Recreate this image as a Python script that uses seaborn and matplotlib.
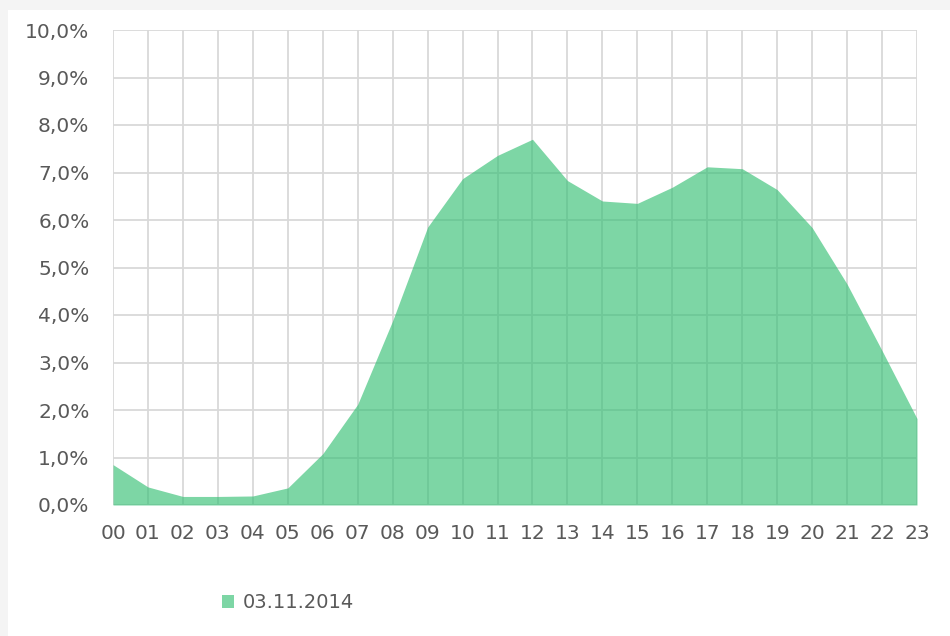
import matplotlib
matplotlib.use("Agg")
import matplotlib.pyplot as plt
import seaborn as sns
import pandas as pd
from matplotlib.patches import Rectangle, Patch
from matplotlib.ticker import FixedLocator

hours = ["00", "01", "02", "03", "04", "05", "06", "07", "08", "09", "10", "11",
         "12", "13", "14", "15", "16", "17", "18", "19", "20", "21", "22", "23"]
share = [0.85, 0.38, 0.18, 0.18, 0.19, 0.36, 1.08, 2.12, 3.88, 5.85, 6.87, 7.36,
         7.70, 6.83, 6.40, 6.35, 6.69, 7.12, 7.08, 6.64, 5.84, 4.65, 3.25, 1.82]
series_name = "03.11.2014"
y_ticks = [0, 1, 2, 3, 4, 5, 6, 7, 8, 9, 10]

df = pd.DataFrame({"pos": range(len(hours)), "hour": hours, "share": share})

sns.set_theme(style="white")
plt.rcParams["font.family"] = ["DejaVu Sans"]

text_color = "#595959"
grid_color = "#d9d9d9"
fill_color = "#37c075"

fig = plt.figure(figsize=(9.5, 6.36), dpi=100)
fig.patch.set_facecolor("white")
# light grey frame at top and left
fig.patches.append(Rectangle((0, 1 - 10 / 636), 1, 10 / 636, transform=fig.transFigure,
                             facecolor="#f4f4f4", edgecolor="none", zorder=0))
fig.patches.append(Rectangle((0, 0), 8 / 950, 1, transform=fig.transFigure,
                             facecolor="#f4f4f4", edgecolor="none", zorder=0))

ax = fig.add_axes([113 / 950, 1 - 505 / 636, (917 - 113) / 950, (505 - 30) / 636])
ax.set_facecolor("none")

sns.lineplot(data=df, x="pos", y="share", ax=ax, color=fill_color, alpha=0.65,
             linewidth=0, zorder=2)
ax.fill_between(df["pos"], df["share"], 0, color=fill_color, alpha=0.65,
                linewidth=0, zorder=2)

ax.set_xlim(0, len(hours) - 1)
ax.set_ylim(0, 10)
ax.xaxis.set_major_locator(FixedLocator(list(range(len(hours)))))
ax.set_xticklabels(hours)
ax.set_yticks(y_ticks)
ax.set_yticklabels([f"{v:.1f}%".replace(".", ",") for v in y_ticks])

ax.grid(True, color=grid_color, linewidth=1.3, zorder=0)
ax.set_axisbelow(True)
for s in ax.spines.values():
    s.set_visible(False)

ax.tick_params(axis="both", length=0, colors=text_color, labelsize=14.5)
ax.tick_params(axis="y", pad=17)
ax.tick_params(axis="x", pad=14)
ax.set_xlabel("")
ax.set_ylabel("")

handle = Patch(facecolor="#7dd6a5", edgecolor="none")
fig.legend([handle], [series_name], loc="center left",
           bbox_to_anchor=(222 / 950, 1 - 603 / 636), frameon=False,
           fontsize=14, labelcolor=text_color, handlelength=0.62,
           handleheight=0.62, handletextpad=0.45, borderaxespad=0, borderpad=0)

fig.savefig("out.png", dpi=100, facecolor="white")
